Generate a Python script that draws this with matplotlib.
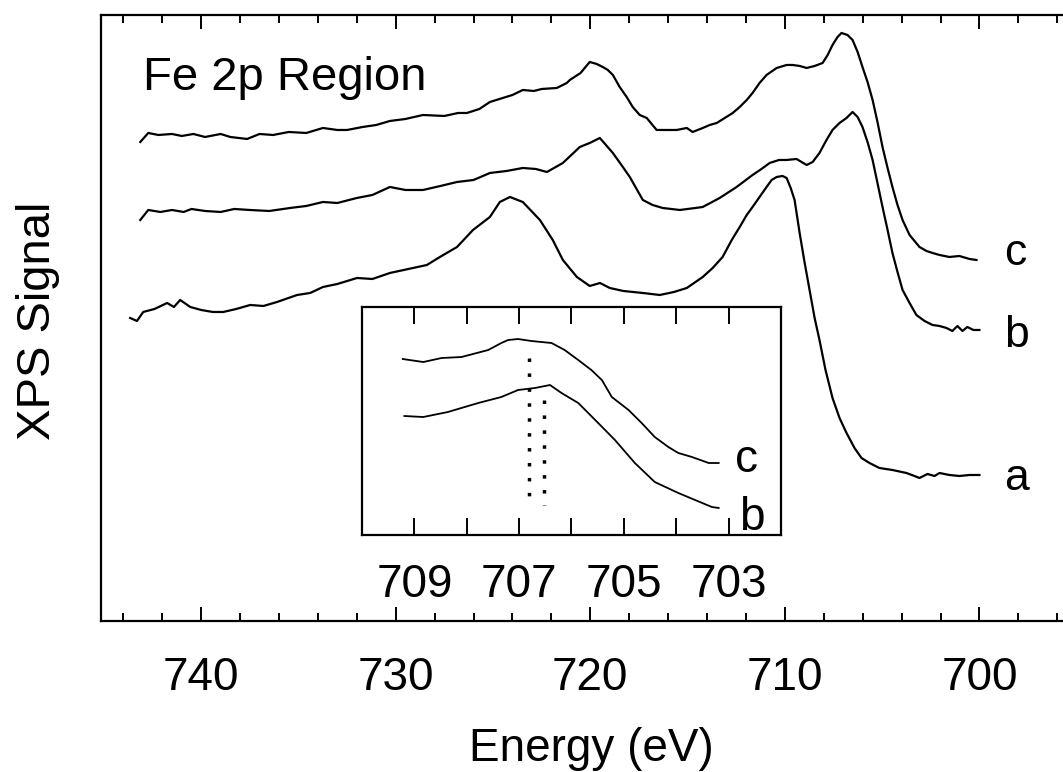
import matplotlib
matplotlib.use("Agg")
import matplotlib.pyplot as plt
from matplotlib.ticker import MultipleLocator

plt.rcParams['font.family'] = ['Liberation Sans', 'DejaVu Sans']

# main spectra: binding energy (eV) and signal (arb. units, offset per curve)
E_c = [743.13, 742.72, 742.2, 741.5, 741.0, 740.4, 739.8, 739.0, 738.5, 737.64, 737.0, 736.3, 735.5,
       734.6, 733.74, 733.0, 732.5, 731.7, 731.0, 730.3, 729.5, 728.6, 727.5, 726.8, 726.34, 725.7,
       725.16, 724.5, 724.0, 723.47, 722.9, 722.5, 721.72, 721.21, 721.05, 720.5, 720.03, 719.67, 719.36,
       719.10, 718.84, 718.49, 718.13, 717.82, 717.46, 717.10, 716.59, 716.07, 715.56, 715.04, 714.74,
       714.22, 713.86, 713.50, 713.09, 712.68, 712.32, 711.96, 711.66, 711.30, 710.94, 710.42, 709.91,
       709.60, 709.24, 708.88, 708.47, 708.06, 707.80, 707.55, 707.29, 707.09, 706.78, 706.52, 706.26,
       706.01, 705.75, 705.49, 705.24, 704.98, 704.72, 704.47, 704.21, 703.95, 703.59, 703.08, 702.72,
       702.41, 702.05, 701.54, 701.03, 700.51, 700.15]
S_c = [479, 488, 486, 487, 485, 487, 484, 487, 484, 482, 487, 486, 489,
       488, 493, 491, 491, 494, 496, 500, 502, 506, 505, 508, 508, 512,
       519, 523, 526, 531, 530, 532, 533, 538, 541, 548, 559, 557, 554,
       551, 546, 534, 524, 514, 506, 503, 491, 491, 491, 493, 489,
       493, 496, 498, 503, 508, 514, 521, 528, 538, 546, 553, 556,
       556, 555, 553, 555, 558, 566, 576, 584, 588, 586, 581, 569,
       554, 539, 521, 499, 474, 453, 434, 416, 401, 386, 374, 370,
       368, 366, 364, 365, 362, 361]

E_b = [743.13, 742.72, 742.1, 741.5, 740.9, 740.5, 739.8, 739.0, 738.3, 737.5, 736.5, 735.43, 734.6,
       733.74, 733.0, 732.0, 731.2, 730.3, 729.5, 728.6, 727.7, 726.85, 726.0, 725.16, 724.3, 723.47,
       722.8, 722.23, 721.41, 720.54, 720.03, 719.51, 718.84, 718.4, 717.97, 717.3, 716.8, 716.28, 715.4,
       714.6, 714.22, 713.35, 712.48, 711.66, 711.2, 710.78, 710.3, 709.91, 709.4, 708.88, 708.57, 708.22,
       707.86, 707.55, 707.19, 706.83, 706.52, 706.26, 706.01, 705.75, 705.49, 705.24, 704.98, 704.72,
       704.47, 704.21, 703.95, 703.59, 703.24, 702.82, 702.41, 702.05, 701.69, 701.39, 701.13, 700.87,
       700.62, 700.31, 700.0]
S_b = [401, 411, 409, 411, 409, 412, 410, 409, 412, 411, 410, 413, 415,
       419, 418, 423, 426, 434, 431, 431, 435, 439, 441, 448, 450, 453,
       452, 449, 458, 474, 478, 483, 468, 456, 444, 421, 416, 413, 411,
       413, 414, 423, 434, 446, 452, 458, 461, 461, 462, 456, 459, 468,
       481, 491, 498, 503, 509, 504, 494, 479, 461, 438, 414, 391,
       368, 349, 331, 318, 306, 300, 296, 295, 293, 290, 295, 290,
       294, 291, 291]

E_a = [743.65, 743.3, 742.98, 742.4, 741.75, 741.4, 741.08, 740.56, 740.0, 739.4, 738.87, 738.2, 737.48,
       736.8, 736.1, 735.07, 734.4, 733.74, 733.0, 731.99, 731.2, 730.3, 729.11, 728.4, 727.73, 726.85,
       726.03, 725.16, 724.65, 724.13, 723.47, 722.59, 721.93, 721.41, 720.69, 720.03, 719.5, 719.0, 718.3,
       717.3, 716.43, 715.7, 715.04, 714.22, 713.71, 713.2, 712.73, 712.32, 711.96, 711.66, 711.3, 710.94,
       710.68, 710.42, 710.12, 709.91, 709.7, 709.50, 709.24, 708.99, 708.73, 708.47, 708.22, 707.91,
       707.55, 707.19, 706.83, 706.42, 706.06, 705.65, 705.14, 704.47, 703.75, 703.34, 703.08, 702.67,
       702.31, 702.05, 701.54, 701.03, 700.51, 700.0]
S_a = [303, 300, 309, 312, 318, 314, 321, 314, 311, 309, 309, 312, 316,
       315, 319, 326, 328, 334, 337, 343, 342, 348, 353, 356, 364, 374,
       391, 404, 419, 424, 419, 401, 381, 361, 344, 335, 338, 333, 330,
       328, 326, 329, 333, 344, 353, 364, 381, 394, 406, 414, 424, 434,
       441, 444, 445, 443, 433, 421, 388, 359, 331, 303, 281, 251,
       223, 203, 188, 173, 163, 158, 153, 151, 148, 145, 143, 147,
       145, 148, 146, 145, 146, 146]

# inset: zoom on the Fe 2p3/2 edge
Ei_c = [709.22, 708.83, 708.48, 708.10, 707.59, 707.34, 707.21, 707.02, 706.76, 706.57, 706.38, 706.13,
        705.87, 705.62, 705.42, 705.23, 704.91, 704.66, 704.41, 704.15, 703.96, 703.70, 703.38, 703.19]
Si_c = [176, 173, 177, 178, 185, 192, 195, 196, 194, 193, 192, 185,
        175, 165, 155, 138, 125, 112, 98, 88, 82, 78, 72, 72]
Ei_b = [709.19, 708.83, 708.36, 707.78, 707.34, 707.02, 706.70, 706.41, 706.19, 705.87, 705.49, 705.17,
        704.79, 704.41, 703.96, 703.64, 703.32, 703.19]
Si_b = [119, 118, 123, 132, 138, 145, 147, 150, 142, 132, 112, 95,
        72, 53, 42, 35, 28, 27]

peak_c = 706.82   # dotted marker, curve c maximum
peak_b = 706.53   # dotted marker, curve b maximum

fig = plt.figure(figsize=(10.63, 7.72), dpi=100)
ax = fig.add_axes([0.0950, 0.1956, 0.9069, 0.785])

for E, S in [(E_a, S_a), (E_b, S_b), (E_c, S_c)]:
    ax.plot(E, S, color='black', lw=1.6)

ax.set_xlim(745.15, 695.6)
ax.set_ylim(0, 606)
ax.xaxis.set_major_locator(MultipleLocator(10))
ax.xaxis.set_minor_locator(MultipleLocator(2))
ax.tick_params(axis='x', which='both', direction='in', top=True, bottom=True,
               labelsize=33, pad=25, width=1.4)
ax.tick_params(axis='x', which='major', length=10)
ax.tick_params(axis='x', which='minor', length=5.5)
ax.set_yticks([])
for s in ax.spines.values():
    s.set_linewidth(1.6)

ax.set_xlabel('Energy (eV)', fontsize=33)
ax.xaxis.set_label_coords(0.509, -0.175)
ax.set_ylabel('XPS Signal', fontsize=34)
ax.yaxis.set_label_coords(-0.043, 0.495)

ax.text(0.0436, 0.876, 'Fe 2p Region', transform=ax.transAxes, fontsize=34, va='baseline')
ax.text(698.72, 356, 'c', fontsize=32, va='baseline')
ax.text(698.72, 274, 'b', fontsize=32, va='baseline')
ax.text(698.72, 131, 'a', fontsize=32, va='baseline')

ins = fig.add_axes([0.3405, 0.3070, 0.3942, 0.2953])
ins.plot(Ei_c, Si_c, color='black', lw=1.3)
ins.plot(Ei_b, Si_b, color='black', lw=1.3)
ins.plot([peak_c, peak_c], [177, 28], color='black', lw=2.5, ls=(0, (1, 3.3)))
ins.plot([peak_b, peak_b], [135, 30], color='black', lw=2.5, ls=(0, (1, 3.3)))
ins.set_xlim(710, 702)
ins.set_ylim(0, 228)
ins.set_xticks([709, 708, 707, 706, 705, 704, 703],
               labels=['709', '', '707', '', '705', '', '703'])
ins.tick_params(axis='x', direction='in', top=True, bottom=True, length=12, width=1.4,
                labelsize=33, pad=20)
ins.set_yticks([])
for s in ins.spines.values():
    s.set_linewidth(1.6)
ins.text(702.88, 63, 'c', fontsize=33, va='baseline')
ins.text(702.80, 5, 'b', fontsize=33, va='baseline')

fig.savefig('out.png', dpi=100)
